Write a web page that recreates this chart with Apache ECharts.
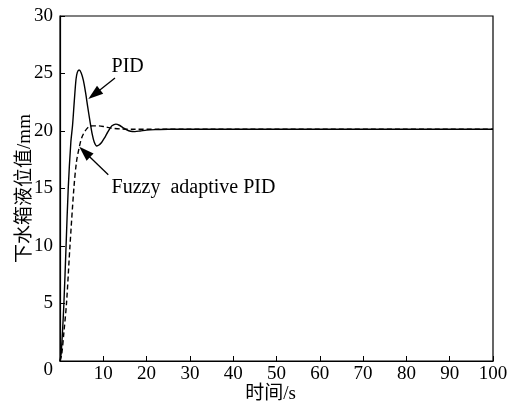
<!DOCTYPE html>
<html>
<head>
<meta charset="utf-8">
<script src="https://cdn.jsdelivr.net/npm/echarts@6/dist/echarts.min.js"></script>
<style>
  html, body { margin: 0; padding: 0; background: #fff; }
  #container { width: 507px; height: 408px; }
</style>
</head>
<body>
<div id="container"></div>
<script>
var dom = document.getElementById("container");
var myChart = echarts.init(dom);
var option = null;

// 时间 / 液位
var pidT = [0, 0.3, 0.9, 1.4, 1.9, 2.5, 2.9, 3.3, 3.7, 4.0, 4.4, 4.9, 5.4, 5.9, 6.4, 6.9, 7.4, 7.9, 8.5,
  9.0, 9.6, 10.2, 10.8, 11.4, 12.0, 12.9, 13.7, 14.5, 15.4, 16.3, 17.3, 18.5, 20, 22, 25, 100];
var pidV = [0, 0.8, 5, 10, 15, 19, 20.5, 22.6, 24.5, 25.1, 25.3, 25.05, 24.4, 23.35, 22.1, 20.9, 19.8, 19.05, 18.7,
  18.78, 19.0, 19.35, 19.75, 20.15, 20.45, 20.6, 20.5, 20.3, 20.1, 19.98, 19.95, 20.0, 20.08, 20.12, 20.15, 20.15];

var fuzzyT = [0, 0.4, 0.9, 1.5, 2.3, 3.2, 3.8, 4.4, 5.0, 5.8, 6.6, 7.5, 9, 10.5, 12, 14, 17, 100];
var fuzzyV = [0, 0.6, 2.5, 5, 10, 15, 17.3, 18.5, 19.4, 20.0, 20.35, 20.45, 20.45, 20.35, 20.25, 20.18, 20.15, 20.15];

// 标注: 箭头起点/终点(三角形中心), 文字位置
var pidArrow = [[12.7, 24.6], [7.9, 23.18]];
var fuzzyArrow = [[11.15, 16.2], [5.7, 18.18]];
var pidLabel = [11.9, 25.6];
var fuzzyLabel = [11.9, 15.05];

function pairs(t, v) {
  return t.map(function (x, i) { return [x, v[i]]; });
}

var serif = "'Liberation Serif', 'Noto Sans CJK SC', serif";

function arrowLine(a) {
  return [
    { coord: a[0], symbol: "none" },
    { coord: a[1], symbol: "triangle", symbolSize: [10, 15] }
  ];
}

function textPoint(p, txt) {
  return {
    coord: p,
    symbol: "circle",
    symbolSize: 0,
    label: {
      show: true,
      position: "right",
      distance: 0,
      formatter: txt,
      color: "#000",
      fontFamily: serif,
      fontSize: 20
    }
  };
}

option = {
  animation: false,
  backgroundColor: "#fff",
  grid: {
    left: 60, right: 14, top: 16, bottom: 47,
    outerBoundsMode: "none",
    containLabel: false,
    show: true,
    borderColor: "#000",
    borderWidth: 1.2
  },
  xAxis: {
    type: "value",
    min: 0, max: 100, interval: 10,
    name: "时间/s",
    nameLocation: "middle",
    nameGap: 24,
    nameMoveOverlap: false,
    nameTextStyle: { color: "#000", fontFamily: serif, fontSize: 19, padding: [0, 12, 0, 0] },
    axisLine: { lineStyle: { color: "#000", width: 1.2 } },
    axisTick: { inside: true, length: 5, lineStyle: { color: "#000" } },
    axisLabel: {
      color: "#000", fontFamily: serif, fontSize: 19, margin: 4,
      formatter: function (v) { return v === 0 ? "" : v; }
    },
    splitLine: { show: false }
  },
  yAxis: {
    type: "value",
    min: 0, max: 30, interval: 5,
    name: "下水箱液位值/mm",
    nameLocation: "middle",
    nameGap: 25,
    nameMoveOverlap: false,
    nameTextStyle: { color: "#000", fontFamily: serif, fontSize: 19 },
    axisLine: { lineStyle: { color: "#000", width: 1.2 } },
    axisTick: { inside: true, length: 5, lineStyle: { color: "#000" } },
    axisLabel: {
      color: "#000", fontFamily: serif, fontSize: 19, margin: 7,
      formatter: function (v) { return v === 0 ? "{z|0}" : v; },
      rich: { z: { fontFamily: serif, fontSize: 19, color: "#000", padding: [18, 0, 0, 0] } }
    },
    splitLine: { show: false }
  },
  series: [
    {
      name: "PID",
      type: "line",
      data: pairs(pidT, pidV),
      showSymbol: false,
      smooth: 0.3,
      lineStyle: { color: "#000", width: 1.4 },
      markLine: {
        silent: true,
        symbol: ["none", "triangle"],
        label: { show: false },
        lineStyle: { color: "#000", width: 1.3, type: "solid" },
        data: [arrowLine(pidArrow), arrowLine(fuzzyArrow)]
      },
      markPoint: {
        silent: true,
        data: [textPoint(pidLabel, "PID"), textPoint(fuzzyLabel, "Fuzzy  adaptive PID")]
      }
    },
    {
      name: "Fuzzy adaptive PID",
      type: "line",
      data: pairs(fuzzyT, fuzzyV),
      showSymbol: false,
      smooth: 0.3,
      lineStyle: { color: "#000", width: 1.4, type: [5, 3] }
    }
  ]
};
if (option && typeof option === "object") {
  myChart.setOption(option, true);
}
</script>
</body>
</html>
